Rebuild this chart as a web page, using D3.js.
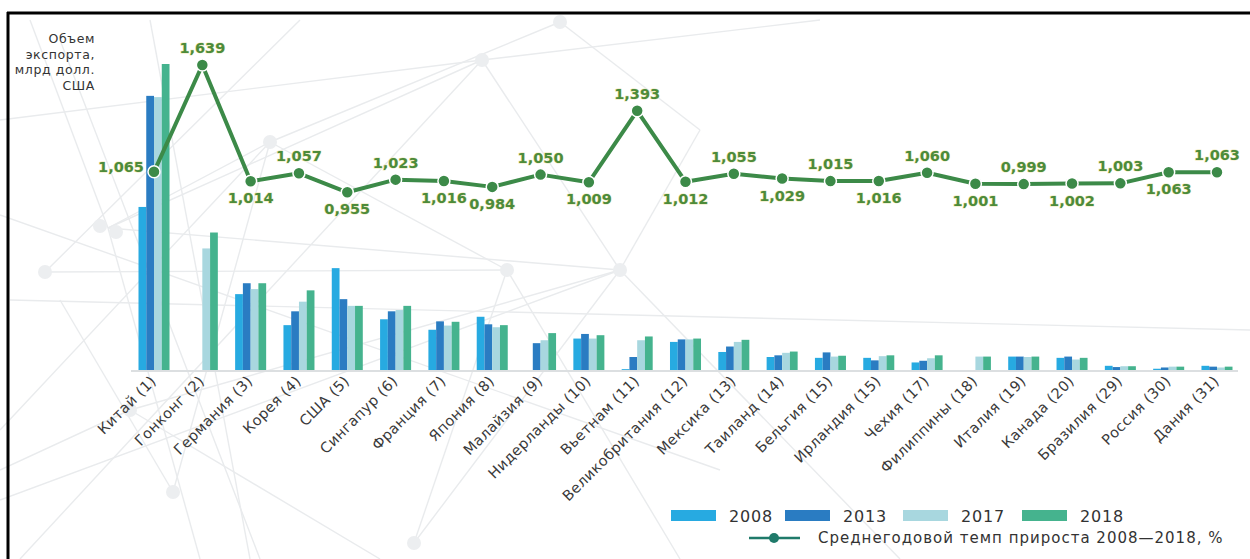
<!DOCTYPE html>
<html lang="ru">
<head>
<meta charset="utf-8">
<script src="https://cdn.jsdelivr.net/npm/d3@7"></script>
<style>
  html, body { margin: 0; padding: 0; background: #fff; }
  svg { display: block; font-family: "DejaVu Sans", sans-serif; }
</style>
</head>
<body>
<svg id="chart" width="1250" height="559"></svg>
<script>
// Countries (with rank in parentheses)
const categories = [
  "Китай (1)", "Гонконг (2)", "Германия (3)", "Корея (4)", "США (5)",
  "Сингапур (6)", "Франция (7)", "Япония (8)", "Малайзия (9)", "Нидерланды (10)",
  "Вьетнам (11)", "Великобритания (12)", "Мексика (13)", "Таиланд (14)", "Бельгия (15)",
  "Ирландия (15)", "Чехия (17)", "Филиппины (18)", "Италия (19)", "Канада (20)",
  "Бразилия (29)", "Россия (30)", "Дания (31)"
];

// Export volume, bn USD (0 = no data)
const exp2008 = [389, 0, 181, 107, 243, 121, 96, 127, 0, 75, 2, 67, 43, 31, 29, 29, 18, 0, 32, 29, 10, 3, 10];
const exp2013 = [654, 0, 207, 140, 169, 140, 116, 109, 64, 86, 31, 73, 56, 35, 42, 23, 22, 0, 32, 32, 7, 6, 8];
const exp2017 = [651, 290, 193, 163, 153, 143, 106, 102, 71, 75, 71, 73, 67, 41, 32, 33, 28, 32, 31, 25, 9, 8, 6];
const exp2018 = [730, 328, 207, 190, 153, 153, 115, 107, 88, 83, 80, 75, 72, 44, 34, 35, 35, 32, 32, 29, 9, 8, 8];

// Average annual growth 2008–2018
const growth = [1.065, 1.639, 1.014, 1.057, 0.955, 1.023, 1.016, 0.984, 1.050, 1.009, 1.393, 1.012,
                1.055, 1.029, 1.015, 1.016, 1.060, 1.001, 0.999, 1.002, 1.003, 1.063, 1.063];

const years = ["2008", "2013", "2017", "2018"];
const seriesLabel = "Среднегодовой темп прироста 2008—2018, %";
const axisTitle = ["Объем", "экспорта,", "млрд долл.", "США"];

// Where each growth label sits relative to its point: a = above, b = below, l = left
const labelSide = ["l","a","b","a","b","a","b","b","a","b","a","b","a","b","a","b","a","b","a","b","a","b","a"];

const yearColors = ["#27aae1", "#2a7cc2", "#a8d7df", "#45b38e"];
const lineColor = "#3c8a48";
const labelColor = "#4d8b3a";

const svg = d3.select("#chart");
const W = 1250, H = 559;
const baseY = 370;

// Faint network pattern in the background
const decoNodes = [[100,226],[116,232],[45,272],[482,60],[270,142],[507,270],[173,492],[414,543],[620,270],[560,22],[130,410]];
const decoEdges = [
  [[0,215],[720,470]], [[10,300],[1250,330]], [[60,40],[260,559]], [[0,120],[482,60]],
  [[108,228],[482,60]], [[108,228],[270,142]], [[45,272],[507,270]], [[108,228],[620,270]],
  [[20,559],[482,60]], [[482,60],[620,270]], [[270,142],[507,270]], [[507,270],[680,559]],
  [[270,142],[173,492]], [[173,492],[60,300]], [[414,543],[507,270]], [[414,543],[620,270]],
  [[130,410],[620,270]], [[560,22],[270,142]], [[560,22],[700,130]], [[700,130],[620,270]],
  [[0,430],[270,142]], [[300,20],[45,272]], [[150,20],[250,559]], [[620,270],[900,559]],
  [[482,60],[820,20]], [[0,500],[620,270]], [[30,20],[108,228]], [[108,228],[200,559]],
  [[130,410],[0,470]], [[130,410],[380,559]]
];
const deco = svg.append("g").attr("stroke", "#e9ebed").attr("stroke-width", 1.4).attr("fill", "none");
decoEdges.forEach(e => deco.append("line")
  .attr("x1", e[0][0]).attr("y1", e[0][1]).attr("x2", e[1][0]).attr("y2", e[1][1]));
svg.append("g").selectAll("circle").data(decoNodes).join("circle")
  .attr("cx", d => d[0]).attr("cy", d => d[1]).attr("r", 7).attr("fill", "#eceef0");

// Frame
svg.append("line").attr("x1", 7).attr("y1", 13).attr("x2", W).attr("y2", 13)
  .attr("stroke", "#000").attr("stroke-width", 3);
svg.append("line").attr("x1", 8).attr("y1", 12).attr("x2", 8).attr("y2", H)
  .attr("stroke", "#000").attr("stroke-width", 3);

// Scales
const x0 = d3.scaleBand().domain(categories).range([138.5, 1232.5]).paddingInner(0.358).paddingOuter(0);
const x1 = d3.scaleBand().domain(years).range([0, x0.bandwidth()]);
const yBar = d3.scaleLinear().domain([0, 730]).range([baseY, 64]);
const yLine = d3.scaleLinear().domain([0, 1.639]).range([baseY, 65]);
const color = d3.scaleOrdinal().domain(years).range(yearColors);

const series = [exp2008, exp2013, exp2017, exp2018];
const rows = categories.map((c, i) => ({
  cat: c,
  vals: years.map((y, k) => ({ year: y, v: series[k][i] }))
}));

// Bars
svg.append("g").selectAll("g").data(rows).join("g")
  .attr("transform", d => `translate(${x0(d.cat)},0)`)
  .selectAll("rect").data(d => d.vals.filter(v => v.v > 0)).join("rect")
  .attr("x", d => x1(d.year))
  .attr("width", x1.bandwidth())
  .attr("y", d => yBar(d.v))
  .attr("height", d => baseY - yBar(d.v))
  .attr("fill", d => color(d.year));

// Baseline
svg.append("line").attr("x1", 131).attr("x2", 1238).attr("y1", baseY + 1).attr("y2", baseY + 1)
  .attr("stroke", "#dcdfe1").attr("stroke-width", 2);

// Category axis labels
const xAxis = d3.axisBottom(x0).tickSize(0).tickPadding(0);
const gx = svg.append("g").attr("transform", `translate(0,${baseY})`).call(xAxis);
gx.select(".domain").remove();
gx.selectAll("text")
  .attr("font-family", "DejaVu Sans, sans-serif")
  .attr("font-size", 14.5)
  .attr("letter-spacing", 0.4)
  .attr("fill", "#3a3a3a")
  .attr("text-anchor", "end")
  .attr("dy", null).attr("y", null)
  .attr("transform", "translate(3,12) rotate(-45)");

// Axis title
const title = svg.append("text").attr("text-anchor", "end").attr("font-size", 12.5)
  .attr("letter-spacing", 0.6).attr("fill", "#333");
axisTitle.forEach((t, i) => title.append("tspan").attr("x", 95).attr("y", 43 + i * 15.5).text(t));

// Growth line
const cx = c => x0(c) + x0.bandwidth() / 2;
const pts = categories.map((c, i) => ({ c, v: growth[i], side: labelSide[i] }));
svg.append("path").datum(pts)
  .attr("fill", "none").attr("stroke", lineColor).attr("stroke-width", 4).attr("stroke-linejoin", "round")
  .attr("d", d3.line().x(d => cx(d.c)).y(d => yLine(d.v)));
svg.append("g").selectAll("circle").data(pts).join("circle")
  .attr("cx", d => cx(d.c)).attr("cy", d => yLine(d.v)).attr("r", 6)
  .attr("fill", lineColor).attr("stroke", "#fff").attr("stroke-width", 1.5);

const fmt = v => d3.format(".3f")(v).replace(".", ",");
svg.append("g").selectAll("text").data(pts).join("text")
  .attr("x", d => d.side === "l" ? cx(d.c) - 33 : cx(d.c))
  .attr("y", d => yLine(d.v) + (d.side === "a" ? -17 : d.side === "b" ? 17 : -5))
  .attr("dominant-baseline", "central")
  .attr("text-anchor", "middle")
  .attr("font-size", 14.5).attr("font-weight", "bold")
  .attr("fill", labelColor)
  .attr("stroke", "#efe9b8").attr("stroke-width", 1).attr("paint-order", "stroke")
  .text(d => fmt(d.v));

// Legend: years
const legend = svg.append("g");
const legX = [671, 785, 903, 1022];
years.forEach((y, i) => {
  legend.append("rect").attr("x", legX[i]).attr("y", 510).attr("width", 45).attr("height", 11).attr("fill", color(y));
  legend.append("text").attr("x", legX[i] + 58).attr("y", 516).attr("dominant-baseline", "central")
    .attr("font-size", 16).attr("letter-spacing", 0.8).attr("fill", "#333").text(y);
});
// Legend: growth line
legend.append("line").attr("x1", 749).attr("x2", 800).attr("y1", 538).attr("y2", 538)
  .attr("stroke", "#1f7a6a").attr("stroke-width", 2.5);
legend.append("circle").attr("cx", 774).attr("cy", 538).attr("r", 5).attr("fill", "#1f7a6a");
legend.append("text").attr("x", 818).attr("y", 538).attr("dominant-baseline", "central")
  .attr("font-size", 15).attr("letter-spacing", 1).attr("fill", "#333").text(seriesLabel);
</script>
</body>
</html>
